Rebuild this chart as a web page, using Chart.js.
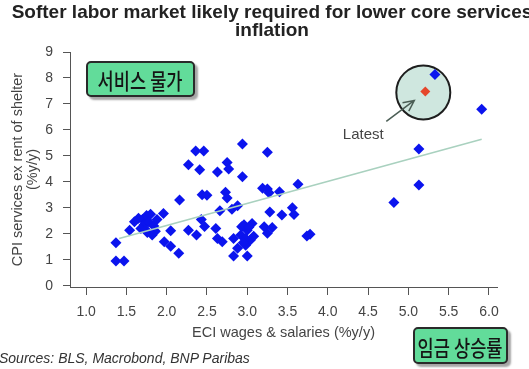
<!DOCTYPE html>
<html>
<head>
<meta charset="utf-8">
<script src="https://cdn.jsdelivr.net/npm/chart.js@4.4.1/dist/chart.umd.min.js"></script>
<style>
  html, body { margin: 0; padding: 0; background: #fff; }
  #wrap { position: relative; width: 529px; height: 369px; overflow: hidden; font-family: "Liberation Sans", Arial, sans-serif; }
  #chart { position: absolute; left: 0; top: 0; }
  .title { position: absolute; left: 0; top: 3px; width: 544px; text-align: center; font-weight: bold; font-size: 19px; line-height: 18px; color: #222; }
  .sources { position: absolute; left: -1px; top: 351px; font-size: 14px; line-height: 14px; font-style: italic; color: #333; }
  .tag { position: absolute; box-sizing: border-box; border: 2px solid #2a2a2a; border-radius: 5px; background: #62dc9a;
         box-shadow: 3px 3px 2px rgba(0, 0, 0, .35); display: flex; align-items: center; justify-content: center; }
  .tag span { font-family: "Noto Sans CJK KR", sans-serif; font-size: 22px; font-weight: 500; color: #151515; transform: scaleX(.8); white-space: nowrap; }
</style>
</head>
<body>
<div id="wrap">
  <canvas id="chart" width="529" height="369"></canvas>
  <div class="title">Softer labor market likely required for lower core services<br>inflation</div>
  <div class="sources">Sources: BLS, Macrobond, BNP Paribas</div>
  <div class="tag" style="left:86px;top:61px;width:109px;height:36px;"><span>서비스 물가</span></div>
  <div class="tag" style="left:413px;top:327px;width:95px;height:37px;"><span>임금 상승률</span></div>
</div>
<script>
// ECI wages & salaries (%y/y) vs CPI services ex rent of shelter (%y/y)
const eciWages = [
  1.37, 1.37, 1.47, 1.54, 1.60, 1.70, 1.75, 1.80, 1.72, 1.78, 1.84, 1.68, 1.76, 1.86, 1.82, 1.65, 1.88, 1.74,
  1.96, 1.97, 2.05, 2.05, 2.15, 2.16, 2.27, 2.36, 2.46, 2.41, 2.27, 2.37, 2.43, 2.47, 2.44, 2.50,
  2.63, 2.75, 2.77, 2.66, 2.61, 2.63, 2.69, 2.73, 2.75, 2.81, 2.88, 2.94, 2.94, 2.83, 2.93, 3.00,
  3.06, 2.88, 2.98, 3.04, 2.83, 3.00, 2.96, 3.02, 2.92, 2.98, 3.08, 2.95, 3.25, 3.19, 3.25, 3.27,
  3.40, 3.28, 3.21, 3.31, 3.25, 3.43, 3.56, 3.58, 3.63, 3.74, 3.78, 4.82, 5.13, 5.13, 5.91, 5.33
];
const cpiServices = [
  1.65, 0.95, 0.95, 2.14, 2.46, 2.55, 2.70, 2.75, 2.35, 2.45, 2.30, 2.20, 2.05, 2.10, 1.95, 2.60, 2.55, 2.15,
  2.78, 1.69, 1.52, 2.12, 1.25, 3.30, 4.66, 5.19, 5.19, 4.47, 2.14, 1.95, 2.55, 2.28, 3.50, 3.48,
  4.38, 4.74, 4.49, 2.89, 2.20, 1.82, 1.69, 3.60, 3.38, 2.94, 3.08, 5.46, 4.20, 1.82, 2.27, 2.14,
  2.40, 1.44, 1.56, 1.76, 1.14, 1.14, 2.35, 2.25, 1.95, 1.82, 1.90, 1.65, 5.14, 3.75, 3.72, 3.58,
  3.62, 2.84, 2.27, 2.24, 2.02, 2.72, 3.00, 2.74, 3.91, 1.91, 1.98, 3.20, 3.88, 5.26, 6.80, 8.13
];
const latestX = [5.21];
const latestY = [7.48];
const trendX = [1.41, 5.91];
const trendY = [1.82, 5.64];
const xTicks = [1.0, 1.5, 2.0, 2.5, 3.0, 3.5, 4.0, 4.5, 5.0, 5.5, 6.0];
const yTicks = [0, 1, 2, 3, 4, 5, 6, 7, 8, 9];

const toPoints = (xs, ys) => xs.map((x, i) => ({ x, y: ys[i] }));

const axisFont = { family: '"Liberation Sans", Arial, sans-serif', size: 14 };

const latestMarker = {
  id: "latestMarker",
  beforeDatasetsDraw(chart) {
    const p = chart.getDatasetMeta(0).data[0];
    const ctx = chart.ctx;
    ctx.save();
    ctx.beginPath();
    ctx.arc(p.x - 2, p.y + 1, 27, 0, Math.PI * 2);
    ctx.fillStyle = "#cfe7df";
    ctx.fill();
    ctx.lineWidth = 2;
    ctx.strokeStyle = "#1e1e1e";
    ctx.stroke();
    ctx.restore();
  },
  afterDatasetsDraw(chart) {
    const p = chart.getDatasetMeta(0).data[0];
    const ctx = chart.ctx;
    const x0 = p.x - 39, y0 = p.y + 30;
    const x1 = p.x - 11, y1 = p.y + 9;
    const ang = Math.atan2(y1 - y0, x1 - x0);
    ctx.save();
    ctx.strokeStyle = "#4b5e55";
    ctx.lineWidth = 1.5;
    ctx.beginPath();
    ctx.moveTo(x0, y0);
    ctx.lineTo(x1, y1);
    ctx.moveTo(x1 - 12 * Math.cos(ang - 0.45), y1 - 12 * Math.sin(ang - 0.45));
    ctx.lineTo(x1, y1);
    ctx.lineTo(x1 - 12 * Math.cos(ang + 0.45), y1 - 12 * Math.sin(ang + 0.45));
    ctx.stroke();
    ctx.fillStyle = "#444";
    ctx.font = '15px "Liberation Sans", Arial, sans-serif';
    ctx.textAlign = "center";
    ctx.textBaseline = "middle";
    ctx.fillText("Latest", p.x - 62, p.y + 43);
    ctx.restore();
  }
};

new Chart(document.getElementById("chart"), {
  type: "scatter",
  data: {
    datasets: [
      {
        label: "Latest",
        data: toPoints(latestX, latestY),
        pointStyle: "rectRot",
        pointRadius: 5,
        backgroundColor: "#e5472b",
        borderWidth: 0
      },
      {
        type: "line",
        label: "Trend",
        data: toPoints(trendX, trendY),
        borderColor: "#a9d1bf",
        borderWidth: 1.6,
        pointRadius: 0,
        fill: false
      },
      {
        label: "ECI vs CPI services",
        data: toPoints(eciWages, cpiServices),
        pointStyle: "rectRot",
        pointRadius: 5.5,
        backgroundColor: "#0b14ee",
        borderWidth: 0
      }
    ]
  },
  options: {
    responsive: false,
    animation: false,
    layout: { padding: { left: 0, top: 52, right: 32, bottom: 0 } },
    plugins: {
      legend: { display: false },
      tooltip: { enabled: false }
    },
    scales: {
      x: {
        type: "linear",
        min: 0.8,
        max: 6.1,
        afterFit(s) { s.height = 82; },
        afterBuildTicks(s) { s.ticks = xTicks.map(v => ({ value: v })); },
        ticks: {
          padding: 9,
          color: "#444",
          font: axisFont,
          callback: v => Number(v).toFixed(1)
        },
        grid: { drawOnChartArea: false, drawTicks: true, tickLength: 8, color: "#555" },
        border: { display: true, color: "#555", width: 1 },
        title: {
          display: true,
          text: "ECI wages & salaries (%y/y)",
          color: "#444",
          font: { family: '"Liberation Sans", Arial, sans-serif', size: 14.5, lineHeight: 1.1 },
          padding: { top: 0, bottom: 28 }
        }
      },
      y: {
        type: "linear",
        min: -0.05,
        max: 9,
        afterFit(s) { s.width = 70; },
        afterBuildTicks(s) { s.ticks = yTicks.map(v => ({ value: v })); },
        ticks: {
          padding: 10,
          color: "#444",
          font: axisFont
        },
        grid: { drawOnChartArea: false, drawTicks: true, tickLength: 7, color: "#555" },
        border: { display: true, color: "#555", width: 1 },
        title: {
          display: true,
          text: ["CPI services ex rent of shelter", "(%y/y)"],
          color: "#444",
          font: { family: '"Liberation Sans", Arial, sans-serif', size: 14.5, lineHeight: 1.05 },
          padding: { top: 10, bottom: 0 }
        }
      }
    }
  },
  plugins: [latestMarker]
});
</script>
</body>
</html>
